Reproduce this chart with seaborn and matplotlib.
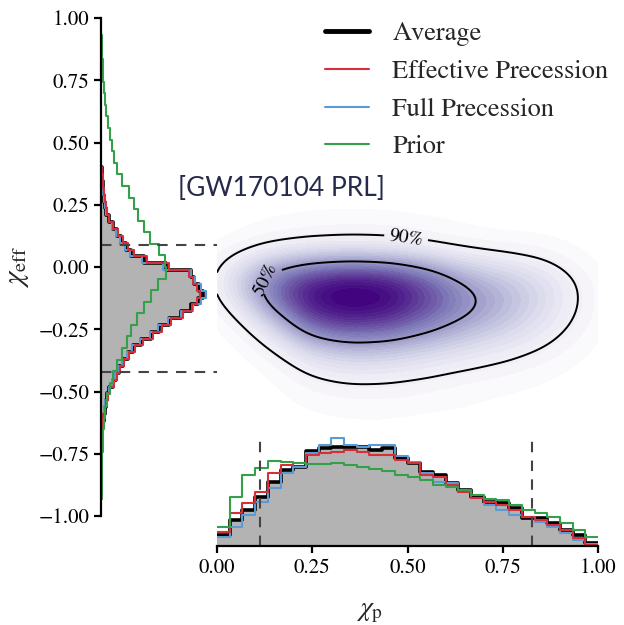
import numpy as np
import pandas as pd
import matplotlib
matplotlib.use("Agg")
import matplotlib.pyplot as plt
from matplotlib.lines import Line2D
import seaborn as sns

# ---------------- data ----------------
series_names = ["Average", "Effective Precession", "Full Precession", "Prior"]
series_colors = ["#000000", "#d62f3a", "#5b9bd5", "#35a04a"]

# chi_p marginal: 30 bins on [0, 1]
chi_p_range = (0.0, 1.0)
chi_p_average = [11, 26, 36, 49, 64, 76, 79, 95, 98, 99, 99, 99, 96, 98, 88,
                 83, 74, 71, 63, 56, 49, 44, 43, 38, 28, 28, 23, 16, 11, 3]
chi_p_effective = [14, 33, 43, 54, 73, 81, 83, 91, 93, 94, 96, 94, 91, 91, 86,
                   83, 71, 69, 61, 54, 48, 44, 41, 36, 29, 26, 21, 16, 8, 1]
chi_p_full = [9, 19, 31, 44, 58, 73, 79, 93, 101, 108, 101, 99, 101, 101, 90,
              84, 73, 64, 63, 54, 48, 41, 36, 31, 29, 24, 19, 13, 6, 2]
chi_p_prior = [19, 49, 71, 78, 85, 84, 83, 82, 82, 83, 81, 79, 77, 75, 71,
               69, 66, 61, 59, 56, 51, 47, 46, 41, 36, 33, 29, 23, 16, 9]

# chi_eff marginal: posteriors 40 bins on [-0.70, 0.40], prior 40 bins on [-0.93, 0.93]
chi_eff_post_range = (-0.70, 0.40)
chi_eff_prior_range = (-0.93, 0.93)
chi_eff_average = [0, 1, 2, 3, 4, 5, 6, 8, 12, 15, 18, 22, 27, 32, 40, 50, 58, 68, 80, 90,
                   97, 102, 98, 93, 90, 65, 43, 30, 25, 20, 16, 12, 8, 5, 4, 3, 2, 2, 1, 1]
chi_eff_effective = [0, 1, 1, 2, 4, 5, 7, 9, 13, 16, 19, 23, 28, 34, 42, 52, 61, 70, 82, 91,
                     96, 99, 96, 92, 88, 68, 46, 33, 27, 22, 17, 12, 8, 6, 5, 4, 3, 2, 2, 1]
chi_eff_full = [0, 1, 2, 3, 3, 4, 6, 8, 11, 14, 17, 21, 26, 31, 39, 49, 57, 67, 80, 92,
                100, 105, 100, 94, 90, 62, 41, 29, 24, 19, 15, 11, 8, 5, 4, 3, 2, 2, 1, 1]
chi_eff_prior = [0.5, 0.5, 1, 1, 1.5, 2, 3, 4, 6, 9, 12, 16, 21, 26, 30, 36, 43, 50, 57, 65,
                 64, 58, 49, 43, 37, 33, 28, 21, 16, 13, 11, 9, 7, 5, 4, 3, 2, 2, 1, 0.5]

# credible-interval markers
chi_eff_bounds = [0.09, -0.42]
chi_p_bounds = [0.112, 0.827]

# joint density estimate on a coarse grid (rows: chi_eff, cols: chi_p)
kde_chi_p = [0.05, 0.15, 0.25, 0.35, 0.45, 0.55, 0.65, 0.75, 0.85, 0.95]
kde_chi_eff = [0.25, 0.20, 0.15, 0.10, 0.05, 0.00, -0.05, -0.10, -0.15, -0.20,
               -0.25, -0.30, -0.35, -0.40, -0.45, -0.50, -0.55, -0.60, -0.65]
kde_weight = [
    [0.5, 1, 2, 2, 2, 1, 1, 1, 0.5, 0.2],
    [1, 3, 4, 4, 4, 3, 2, 1, 1, 0.4],
    [2, 4, 6, 7, 7, 5, 3, 2, 2, 1],
    [4, 10, 13, 14, 13, 10, 6, 5, 4, 2],
    [10, 23, 30, 33, 31, 24, 16, 12, 9, 3],
    [18, 43, 56, 61, 58, 46, 30, 22, 16, 6],
    [24, 60, 80, 87, 83, 65, 43, 33, 23, 9],
    [23, 63, 91, 99, 94, 74, 51, 39, 26, 10],
    [14, 55, 89, 97, 92, 73, 53, 40, 25, 10],
    [8, 38, 78, 85, 81, 64, 48, 36, 22, 9],
    [4, 24, 62, 69, 66, 52, 38, 29, 18, 7],
    [2, 14, 42, 50, 47, 37, 28, 21, 13, 5],
    [1, 8, 26, 33, 31, 24, 19, 14, 9, 3],
    [0.5, 4, 16, 21, 20, 16, 12, 9, 5, 2],
    [0.3, 2, 10, 13, 12, 10, 7, 5, 3, 1],
    [0.2, 1.5, 6, 8, 8, 6, 4, 3, 2, 1],
    [0.1, 1, 4, 5, 5, 4, 3, 2, 1, 0.5],
    [0.1, 0.5, 2, 3, 3, 2, 2, 1, 1, 0.3],
    [0.1, 0.5, 1, 2, 2, 1, 1, 1, 0.5, 0.2],
]

x_ticks = [0.0, 0.25, 0.5, 0.75, 1.0]
y_ticks = [-1.0, -0.75, -0.5, -0.25, 0.0, 0.25, 0.5, 0.75, 1.0]

# ---------------- style ----------------
sns.set_theme(style="ticks")
plt.rcParams["font.family"] = ["STIXGeneral", "Liberation Serif", "DejaVu Serif"]
plt.rcParams["mathtext.fontset"] = "stix"
plt.rcParams["axes.linewidth"] = 1.6
plt.rcParams["xtick.major.width"] = 1.6
plt.rcParams["ytick.major.width"] = 1.6
plt.rcParams["xtick.major.size"] = 5
plt.rcParams["ytick.major.size"] = 5
plt.rcParams["axes.edgecolor"] = "black"
plt.rcParams["xtick.color"] = "black"
plt.rcParams["ytick.color"] = "black"

W, H = 624, 625
fig = plt.figure(figsize=(W / 100, H / 100), dpi=100)

def px_axes(x0, y0, x1, y1):
    return fig.add_axes([x0 / W, 1 - y1 / H, (x1 - x0) / W, (y1 - y0) / H])

ax_main = px_axes(217, 18, 598, 516)
ax_left = px_axes(101, 18, 217, 516)
ax_bot = px_axes(217, 437, 598, 546)
for a in (ax_main, ax_left, ax_bot):
    a.patch.set_visible(False)

# ---------------- joint density ----------------
P, E = np.meshgrid(kde_chi_p, kde_chi_eff)
joint = pd.DataFrame({"chi_p": P.ravel(), "chi_eff": E.ravel(),
                      "w": np.asarray(kde_weight, float).ravel()})
kde_kws = dict(data=joint, x="chi_p", y="chi_eff", weights="w",
               clip=((0, 1), (-1, 1)), bw_adjust=0.6, gridsize=200, ax=ax_main)
sns.kdeplot(fill=True, cmap="Purples", levels=30, thresh=0.02, **kde_kws)
sns.kdeplot(levels=[0.1, 0.5], color="black", linewidths=1.4, **kde_kws)
cs = ax_main.collections[-1]
fmt = {cs.levels[0]: "90%", cs.levels[1]: "50%"}
ax_main.clabel(cs, fmt=fmt, inline=True, fontsize=14,
               manual=[(0.5, 0.14), (0.08, -0.03)])
ax_main.set_xlim(0, 1)
ax_main.set_ylim(-1, 1)
ax_main.axis("off")

# ---------------- marginals ----------------
def hist_frame(vals, rng):
    e = np.linspace(rng[0], rng[1], len(vals) + 1)
    df = pd.DataFrame({"v": 0.5 * (e[1:] + e[:-1]), "w": np.asarray(vals, float)})
    return df, [float(v) for v in e]

post_frames = {
    0: hist_frame(chi_eff_average, chi_eff_post_range),
    1: hist_frame(chi_eff_effective, chi_eff_post_range),
    2: hist_frame(chi_eff_full, chi_eff_post_range),
    3: hist_frame(chi_eff_prior, chi_eff_prior_range),
}
df0, e0 = post_frames[0]
sns.histplot(data=df0, y="v", weights="w", bins=e0, element="step", fill=True,
             color="#b3b3b3", alpha=1, linewidth=0, ax=ax_left)
for i in [0, 2, 1, 3]:
    df, e = post_frames[i]
    sns.histplot(data=df, y="v", weights="w", bins=e, element="step", fill=False,
                 color=series_colors[i], linewidth=2.6 if i == 0 else 1.5, ax=ax_left)
for b in chi_eff_bounds:
    ax_left.axhline(b, color="#444444", lw=1.5, ls=(0, (5, 4)))
ax_left.set_xlim(0, 116)
ax_left.set_ylim(-1, 1)
ax_left.set_yticks(y_ticks)
ax_left.set_yticklabels([f"{t:.2f}".replace("-", "\u2212") for t in y_ticks], fontsize=15)
ax_left.set_xticks([])
ax_left.set_xlabel("")
ax_left.set_ylabel(r"$\chi_{\rm eff}$", fontsize=21, labelpad=5)
sns.despine(ax=ax_left, bottom=True)
ax_left.spines["left"].set_bounds(-1, 1)

p_frames = {
    0: hist_frame(chi_p_average, chi_p_range),
    1: hist_frame(chi_p_effective, chi_p_range),
    2: hist_frame(chi_p_full, chi_p_range),
    3: hist_frame(chi_p_prior, chi_p_range),
}
df0, e0 = p_frames[0]
sns.histplot(data=df0, x="v", weights="w", bins=e0, element="step", fill=True,
             color="#b3b3b3", alpha=1, linewidth=0, ax=ax_bot)
for i in [0, 2, 1, 3]:
    df, e = p_frames[i]
    sns.histplot(data=df, x="v", weights="w", bins=e, element="step", fill=False,
                 color=series_colors[i], linewidth=2.6 if i == 0 else 1.5, ax=ax_bot)
for b in chi_p_bounds:
    ax_bot.axvline(b, color="#444444", lw=1.5, ls=(0, (5, 4)))
ax_bot.set_xlim(0, 1)
ax_bot.set_ylim(0, 109)
ax_bot.set_xticks(x_ticks)
ax_bot.set_xticklabels([f"{t:.2f}" for t in x_ticks], fontsize=15)
ax_bot.set_yticks([])
ax_bot.set_ylabel("")
ax_bot.set_xlabel(r"$\chi_{\rm p}$", fontsize=20)
ax_bot.xaxis.set_label_coords(0.40, -0.49)
sns.despine(ax=ax_bot, left=True)
ax_bot.spines["bottom"].set_bounds(0, 1)

# ---------------- legend and annotation ----------------
handles = [Line2D([], [], color=series_colors[0], lw=3.5)] + \
          [Line2D([], [], color=c, lw=1.5) for c in series_colors[1:]]
fig.legend(handles, series_names, loc="upper left", bbox_to_anchor=(325 / W, 1 - 22 / H),
           frameon=False, fontsize=19, handlelength=1.65, handletextpad=0.9,
           labelspacing=0.5, borderpad=0, borderaxespad=0)
fig.text(178 / W, 1 - 188 / H, "[GW170104 PRL]", fontsize=19, color="#262a4a",
         family=["Lato", "DejaVu Sans"], ha="left", va="center")

fig.savefig("out.png", dpi=100)
